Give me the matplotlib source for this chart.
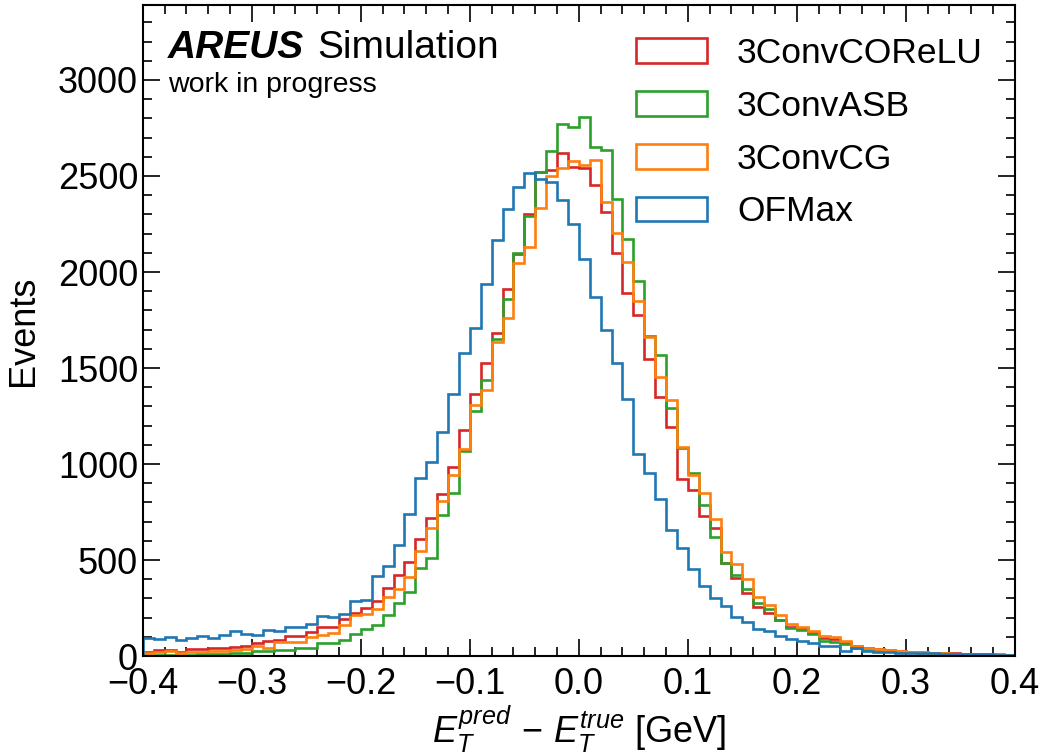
import numpy as np
import matplotlib.pyplot as plt

plt.rcParams['font.family'] = ['Liberation Sans', 'DejaVu Sans']
plt.rcParams['mathtext.fontset'] = 'custom'
plt.rcParams['mathtext.rm'] = 'Liberation Sans'
plt.rcParams['mathtext.it'] = 'Liberation Sans:italic'
plt.rcParams['mathtext.bf'] = 'Liberation Sans:bold'

# 80 bins of width 0.01 GeV between -0.4 and 0.4
bin_edges = np.linspace(-0.4, 0.4, 81)

corelu_counts = [
    23, 31, 31, 23, 36, 36, 43, 43, 45, 54,
    66, 78, 83, 104, 104, 127, 153, 150, 191, 226,
    248, 286, 356, 422, 491, 609, 720, 842, 984, 1177,
    1365, 1528, 1684, 1911, 2092, 2300, 2522, 2531, 2618, 2549,
    2540, 2453, 2314, 2097, 1889, 1776, 1545, 1347, 1194, 920,
    865, 729, 665, 483, 408, 330, 257, 222, 188, 153,
    144, 121, 95, 87, 66, 52, 40, 35, 30, 26,
    22, 20, 17, 15, 14, 12, 11, 10, 9, 8,
]
asb_counts = [
    5, 6, 6, 7, 8, 9, 10, 12, 14, 18,
    26, 28, 31, 33, 40, 42, 69, 66, 85, 114,
    140, 161, 214, 278, 332, 460, 512, 734, 851, 1068,
    1276, 1437, 1649, 1858, 2101, 2292, 2522, 2632, 2769, 2753,
    2806, 2653, 2635, 2380, 2170, 1955, 1668, 1568, 1290, 1085,
    955, 786, 618, 483, 422, 347, 274, 243, 188, 144,
    135, 115, 78, 71, 61, 43, 36, 30, 25, 22,
    20, 18, 16, 14, 12, 11, 10, 9, 8, 7,
]
cg_counts = [
    17, 23, 26, 14, 23, 23, 28, 28, 31, 36,
    52, 40, 71, 71, 74, 97, 109, 118, 163, 216,
    217, 245, 309, 347, 413, 547, 668, 807, 943, 1078,
    1307, 1385, 1634, 1759, 2045, 2132, 2332, 2500, 2540, 2580,
    2557, 2583, 2366, 2201, 2050, 1849, 1663, 1453, 1333, 1090,
    943, 851, 712, 543, 477, 401, 309, 266, 214, 165,
    153, 130, 104, 97, 77, 55, 40, 35, 31, 28,
    22, 20, 18, 15, 13, 12, 12, 10, 9, 8,
]
ofmax_counts = [
    95, 88, 101, 83, 95, 104, 92, 109, 132, 115,
    108, 135, 132, 150, 153, 168, 209, 204, 217, 288,
    292, 418, 469, 578, 738, 929, 1009, 1167, 1366, 1576,
    1708, 1937, 2167, 2326, 2444, 2514, 2483, 2470, 2375, 2248,
    2066, 1871, 1698, 1524, 1340, 1052, 953, 816, 656, 562,
    451, 365, 300, 262, 205, 179, 139, 132, 106, 87,
    78, 69, 52, 52, 28, 44, 28, 22, 20, 18,
    17, 16, 15, 13, 12, 11, 10, 9, 8, 7,
]

labels = ['3ConvCOReLU', '3ConvASB', '3ConvCG', 'OFMax']
colors = ['#d62728', '#2ca02c', '#ff7f0e', '#1f77b4']
all_counts = [corelu_counts, asb_counts, cg_counts, ofmax_counts]

fig = plt.figure(figsize=(10.43, 7.55), dpi=100)
ax = fig.add_axes([0.137, 0.131, 0.836, 0.8623])

centers = 0.5 * (bin_edges[:-1] + bin_edges[1:])
for counts, label, color in zip(all_counts, labels, colors):
    ax.hist(centers, bins=bin_edges, weights=counts, histtype='step',
            color=color, linewidth=1.9, label=label)

xmajor = np.round(np.arange(-0.4, 0.41, 0.1), 1)
ax.set_xlim(-0.4, 0.4)
ax.set_ylim(0, 3390)
ax.set_xticks(xmajor)
ax.set_xticks(np.arange(-0.4, 0.401, 0.02), minor=True)
ax.set_yticks(np.arange(0, 3001, 500))
ax.set_yticks(np.arange(0, 3390, 100), minor=True)
ax.set_xticklabels([f'{v:.1f}'.replace('-', '\u2212') if v != 0 else '0.0'
                    for v in xmajor])

ax.tick_params(which='both', direction='in', top=True, right=True,
               labelsize=26, width=1.2)
ax.tick_params(which='major', length=12)
ax.tick_params(which='minor', length=6.5)
ax.tick_params(axis='x', pad=8)
for spine in ax.spines.values():
    spine.set_linewidth(1.5)

ax.set_xlabel(r'$E_T^{pred}\,-\,E_T^{true}$ [GeV]', fontsize=26, labelpad=1)
ax.set_ylabel('Events', fontsize=26, labelpad=12)

leg = ax.legend(loc='upper right', fontsize=25.5, frameon=False,
                labelspacing=0.56, handletextpad=0.85)

t1 = ax.text(0.029, 0.919, 'AREUS', transform=ax.transAxes, fontsize=28,
             fontweight='bold', fontstyle='italic', va='baseline')
ax.annotate('Simulation', xy=(1, 0), xycoords=t1, xytext=(9, 0),
            textcoords='offset points', fontsize=28, va='bottom')
ax.text(0.029, 0.866, 'work in progress', transform=ax.transAxes,
        fontsize=20.5, va='baseline')

fig.savefig('out.png', dpi=100)
